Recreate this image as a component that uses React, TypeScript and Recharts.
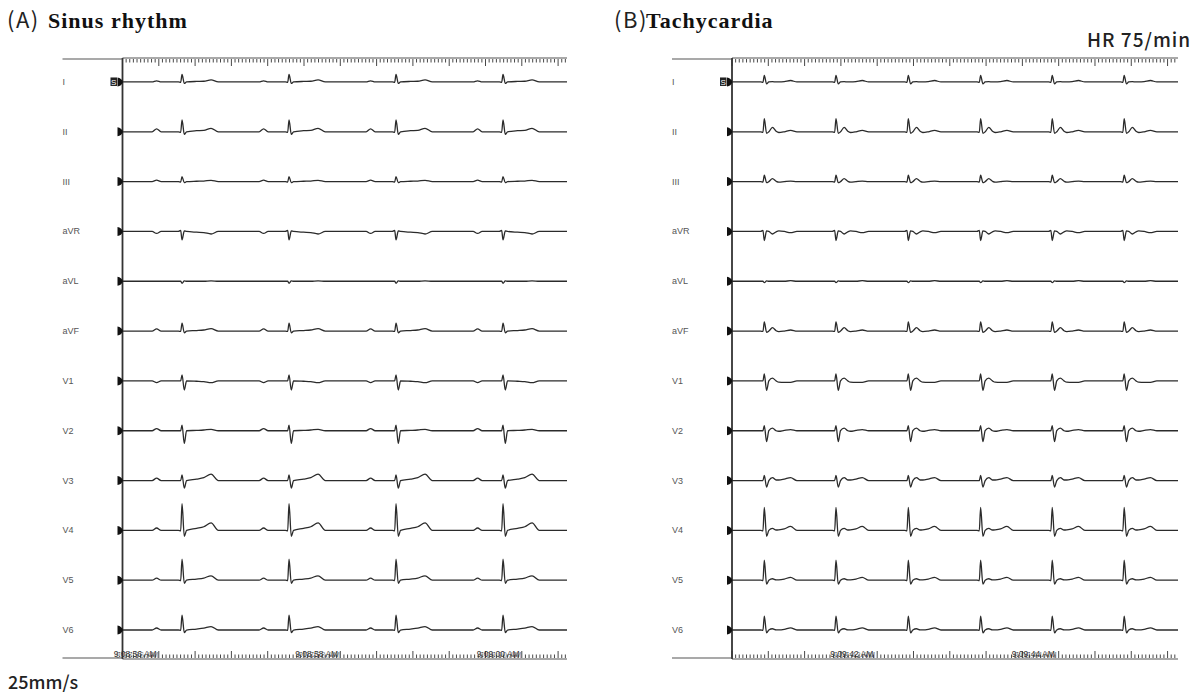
import React from 'react';
import { LineChart, Line, XAxis, YAxis } from 'recharts';

const LEADS = ['I', 'II', 'III', 'aVR', 'aVL', 'aVF', 'V1', 'V2', 'V3', 'V4', 'V5', 'V6'];

// R-peak times, seconds from the first time label of each strip
const SINUS_BEATS = [0.516, 1.695, 2.874, 4.053];
const TACHY_BEATS = [-0.964, -0.174, 0.623, 1.42, 2.209, 3.002];

// strip time span (s)
const SINUS_DOMAIN: [number, number] = [-0.14, 4.758];
const TACHY_DOMAIN: [number, number] = [-1.32, 3.595];

const SINUS_TIME_TICKS = [0, 2, 4];
const SINUS_TIME_LABELS = ['9:08:56 AM', '9:08:58 AM', '9:09:00 AM'];
const TACHY_TIME_TICKS = [0, 2];
const TACHY_TIME_LABELS = ['9:09:42 AM', '9:09:44 AM'];

// beat knots, seconds relative to R peak: P on, P, P off, Q on, q, R, S, J, ST, T on, T, T off
const SINUS_KNOTS = [-0.33, -0.28, -0.23, -0.04, -0.015, 0, 0.025, 0.05, 0.16, 0.24, 0.32, 0.4];
// amplitudes (0.1 mV) per lead at the knots above
const SINUS_WAVES = [
  [0, 0.3, 0, 0, -0.1, 2.05, -0.4, 0, 0.15, 0.2, 0.55, 0], // I
  [0, 0.8, 0, 0, -0.15, 3.3, -0.7, 0, 0.3, 0.4, 0.95, 0], // II
  [0, 0.4, 0, 0, -0.1, 1.4, -0.3, 0, 0.1, 0.15, 0.35, 0], // III
  [0, -0.55, 0, 0, 0.3, -2.35, 0.15, 0, -0.2, -0.3, -0.7, 0], // aVR
  [0, 0, 0, 0, 0, -0.55, 0.1, 0, 0, 0, 0.1, 0], // aVL
  [0, 0.6, 0, 0, -0.1, 2.2, -0.5, 0, 0.15, 0.3, 0.65, 0], // aVF
  [0, -0.45, 0, 0, 0, 1.65, -2.5, 0, -0.1, -0.2, -0.5, 0], // V1
  [0, 0.6, 0, 0, 0, 1.55, -3.5, 0, 0.1, 0.2, 0.4, 0], // V2
  [0, 0.65, 0, 0, 0, 1.55, -2.1, 0, 0.4, 0.8, 1.75, 0], // V3
  [0, 0.65, 0, 0, -0.1, 7.35, -1.65, 0, 0.55, 1.0, 2.05, 0], // V4
  [0, 0.55, 0, 0, -0.1, 5.8, -0.85, 0, 0.3, 0.6, 1.2, 0], // V5
  [0, 0.55, 0, 0, -0.1, 4.1, -0.7, 0, 0.25, 0.5, 0.95, 0], // V6
];

// Q on, q, R, S, J, notch, notch off, dip, T on, T, T off
const TACHY_KNOTS = [-0.04, -0.015, 0, 0.025, 0.05, 0.09, 0.13, 0.16, 0.22, 0.29, 0.36];
const TACHY_WAVES = [
  [0, -0.1, 1.8, -0.55, 0, 0.1, 0, 0, 0.1, 0.4, 0], // I
  [0, -0.15, 3.6, -0.4, 0, 1.2, 0.15, -0.2, 0, 0.4, 0], // II
  [0, -0.1, 1.75, -0.3, 0, 0.8, 0.1, -0.15, 0, 0.15, 0], // III
  [0, 0.3, -2.5, 0.15, 0, -0.7, -0.1, 0.15, 0, -0.35, 0], // aVR
  [0, 0, -0.4, 0.1, 0, 0, 0, 0, 0, 0.15, 0], // aVL
  [0, -0.1, 2.5, -0.35, 0, 0.95, 0.1, -0.15, 0, 0.3, 0], // aVF
  [0, 0, 1.9, -2.6, 0, 0.75, 0, -0.35, -0.4, -0.4, 0], // V1
  [0, 0, 1.4, -3.0, 0, 0.7, 0, -0.15, 0.1, 0.3, 0], // V2
  [0, 0, 1.4, -1.8, 0, 0.8, 0.15, 0.15, 0.4, 0.8, 0], // V3
  [0, -0.1, 6.3, -1.65, 0, 0.55, 0.1, 0.15, 0.4, 1.1, 0], // V4
  [0, -0.1, 5.5, -1.1, 0, 0.4, 0.1, 0.1, 0.3, 0.8, 0], // V5
  [0, -0.1, 3.85, -0.8, 0, 0.35, 0.05, 0.05, 0.2, 0.6, 0], // V6
];

// vertical layout of the 12 rows (same units as the waves)
const Y_MAX = 165.5;
const ROW_GAP = 13.72;
const TOP_PAD = 6.6;
const BASELINES = LEADS.map((_, i) => Y_MAX - TOP_PAD - ROW_GAP * i);

const STEP = 0.04; // one small box
const LINE = '#2b2b2b';

function rulerTicks([start, end]: [number, number]) {
  const out: number[] = [];
  for (let k = 0; start + k * STEP <= end + 1e-9; k++) out.push(+(start + k * STEP).toFixed(4));
  return out;
}

function buildSeries(beats: number[], knots: number[], amps: number[], base: number, [start, end]: [number, number]) {
  const pts = [{ t: start, v: base }];
  beats.forEach(b => knots.forEach((k, j) => pts.push({ t: b + k, v: base + amps[j] })));
  pts.push({ t: end, v: base });
  return pts;
}

// the axis box is 1px tall, so shift by it to sit on the axis line
const TopRuler = (props: any) => {
  const { x, y, index } = props;
  const y0 = y + 1;
  const len = index % 10 === 0 ? 7 : 3.5;
  return (
    <g>
      {index === 0 && <line x1={x - 60} y1={y0} x2={x} y2={y0} stroke="#555" strokeWidth={1.2} />}
      <line x1={x} y1={y0} x2={x} y2={y0 + len} stroke="#333" strokeWidth={0.9} />
    </g>
  );
};

const BottomRuler = (props: any) => {
  const { x, y, index } = props;
  const y0 = y - 1;
  const len = index % 10 === 0 ? 7 : 3.5;
  return (
    <g>
      {index === 0 && <line x1={x - 60} y1={y0} x2={x} y2={y0} stroke="#555" strokeWidth={1.2} />}
      <line x1={x} y1={y0} x2={x} y2={y0 - len} stroke="#333" strokeWidth={0.9} />
    </g>
  );
};

const LeadTick = (props: any) => {
  const { x, y, payload } = props;
  const i = BASELINES.findIndex(b => Math.abs(b - payload.value) < 1e-6);
  return (
    <g>
      <text x={x - 60} y={y + 3} fontSize={9} fill="#555" fontFamily="Arial, 'Liberation Sans', sans-serif">
        {LEADS[i]}
      </text>
      {i === 0 && (
        <g>
          <rect x={x - 12} y={y - 4.5} width={6.5} height={8.5} fill="#222" />
          <text x={x - 8.75} y={y + 3} fontSize={8} fill="#fff" textAnchor="middle" fontFamily="Arial, sans-serif">S</text>
        </g>
      )}
      <path d={`M${x - 5},${y - 4.5} Q${x - 1},${y - 4} ${x + 0.5},${y} Q${x - 1},${y + 4} ${x - 5},${y + 4.5} Z`} fill="#111" />
    </g>
  );
};

interface PanelProps {
  left: number;
  width: number;
  margin: { left: number; right: number };
  domain: [number, number];
  beats: number[];
  knots: number[];
  waves: number[][];
  timeTicks: number[];
  timeLabels: string[];
}

const EcgPanel: React.FC<PanelProps> = ({ left, width, margin, domain, beats, knots, waves, timeTicks, timeLabels }) => {
  const ruler = rulerTicks(domain);
  return (
    <div style={{ position: 'absolute', left, top: 0 }}>
      <LineChart width={width} height={695} margin={{ top: 57, bottom: 34, left: margin.left, right: margin.right }}>
        <XAxis xAxisId="top" orientation="top" type="number" dataKey="t" domain={domain} allowDataOverflow
          ticks={ruler} interval={0} height={1} tickSize={0} tickMargin={0}
          axisLine={{ stroke: '#555', strokeWidth: 1.2 }} tickLine={false} tick={TopRuler} />
        <XAxis xAxisId="bottom" orientation="bottom" type="number" dataKey="t" domain={domain} allowDataOverflow
          ticks={ruler} interval={0} height={1} tickSize={0} tickMargin={0}
          axisLine={{ stroke: '#555', strokeWidth: 1.2 }} tickLine={false} tick={BottomRuler} />
        <XAxis xAxisId="labels" orientation="bottom" type="number" dataKey="t" domain={domain} allowDataOverflow
          ticks={timeTicks} interval={0} height={1} tickSize={0} tickMargin={0}
          axisLine={false} tickLine={false}
          tick={(p: any) => {
            const label = timeLabels[timeTicks.indexOf(p.payload.value)];
            // the recorder prints the stamp twice, slightly offset
            return (
              <g fontSize={8.5} fill="#333" fontFamily="Arial, sans-serif" textAnchor="middle">
                <text x={p.x} y={p.y - 3}>{label}</text>
                <text x={p.x + 2} y={p.y - 2} opacity={0.55}>{label}</text>
              </g>
            );
          }} />
        <YAxis type="number" domain={[0, Y_MAX]} ticks={BASELINES} interval={0} width={60}
          tickSize={0} tickMargin={0} axisLine={{ stroke: '#333', strokeWidth: 1.8 }} tickLine={false} tick={LeadTick} />
        {LEADS.map((lead, i) => (
          <Line key={lead} name={lead} xAxisId="bottom" data={buildSeries(beats, knots, waves[i], BASELINES[i], domain)}
            dataKey="v" type="monotone" stroke={LINE} strokeWidth={1.3} dot={false} activeDot={false}
            isAnimationActive={false} />
        ))}
      </LineChart>
    </div>
  );
};

const App: React.FC = () => (
  <div style={{ position: 'absolute', left: 0, top: 0, width: 1198, height: 695, background: '#fff' }}>
    <EcgPanel left={0} width={600} margin={{ left: 62.5, right: 33 }} domain={SINUS_DOMAIN}
      beats={SINUS_BEATS} knots={SINUS_KNOTS} waves={SINUS_WAVES}
      timeTicks={SINUS_TIME_TICKS} timeLabels={SINUS_TIME_LABELS} />
    <EcgPanel left={610} width={588} margin={{ left: 62, right: 20 }} domain={TACHY_DOMAIN}
      beats={TACHY_BEATS} knots={TACHY_KNOTS} waves={TACHY_WAVES}
      timeTicks={TACHY_TIME_TICKS} timeLabels={TACHY_TIME_LABELS} />
    <svg width={1198} height={695} style={{ position: 'absolute', left: 0, top: 0, pointerEvents: 'none' }}>
      <text x={7} y={28} fontSize={22} letterSpacing={1.5} fill="#222" fontFamily="'Noto Sans CJK JP', 'Noto Sans', sans-serif">(A)</text>
      <text x={48} y={28} fontSize={22} letterSpacing={1} fontWeight="bold" fill="#111" fontFamily="'Liberation Serif', serif">Sinus rhythm</text>
      <text x={614} y={28} fontSize={22} letterSpacing={1.5} fill="#222" fontFamily="'Noto Sans CJK JP', 'Noto Sans', sans-serif">(B)</text>
      <text x={646} y={28} fontSize={22} letterSpacing={1} fontWeight="bold" fill="#111" fontFamily="'Liberation Serif', serif">Tachycardia</text>
      <text x={1087} y={47} fontSize={19} letterSpacing={1} fontWeight={500} fill="#222" fontFamily="'Noto Sans CJK JP', 'Noto Sans', sans-serif">HR 75/min</text>
      <text x={8} y={689} fontSize={18} fontWeight={500} fill="#222" fontFamily="'Noto Sans CJK JP', 'Noto Sans', sans-serif">25mm/s</text>
    </svg>
  </div>
);

export default App;
